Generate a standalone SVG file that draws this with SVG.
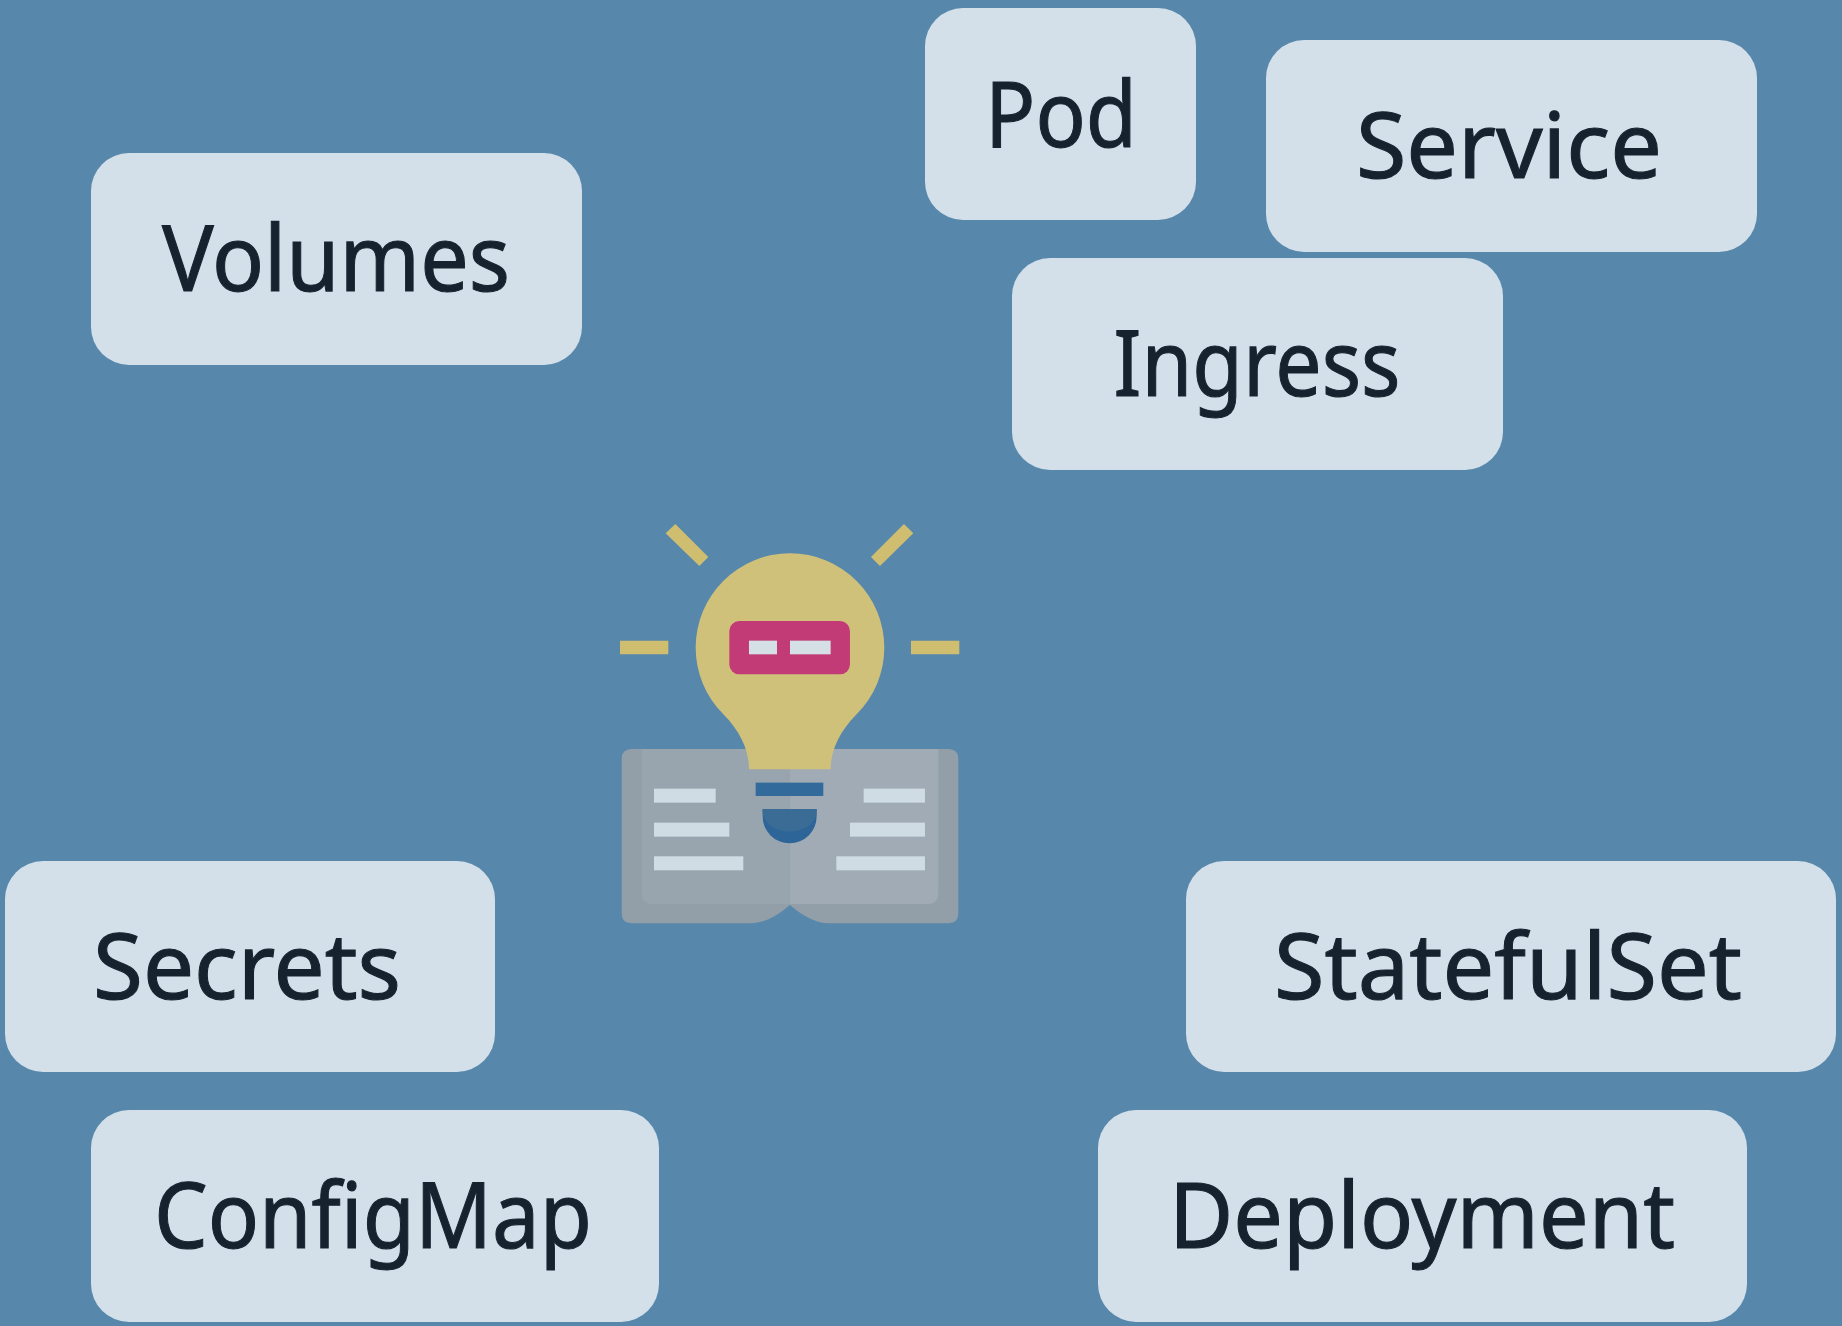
<svg xmlns="http://www.w3.org/2000/svg" width="1842" height="1326" viewBox="0 0 1842 1326">
<style>
.box{fill:#d3e0ea}
.lbl{font-family:"Noto Sans","Open Sans","Liberation Sans",sans-serif;font-size:92px;fill:#17242f;text-anchor:middle;stroke:#17242f;stroke-width:1.1}
.ray{fill:#cfbd6f}
.ln{fill:#cfdce4}
</style>
<defs><filter id="soft" x="-2%" y="-2%" width="104%" height="104%"><feGaussianBlur stdDeviation="0.7"/></filter></defs>
<rect id="background" width="1842" height="1326" fill="#5787ab"/>
<g id="connectors"/>
<g filter="url(#soft)">
<g id="node-pod"><rect class="box" x="925" y="8" width="271" height="212" rx="38"/><text class="lbl" x="1061" y="147" textLength="152" lengthAdjust="spacingAndGlyphs">Pod</text></g>
<g id="node-service"><rect class="box" x="1266" y="40" width="491" height="212" rx="38"/><text class="lbl" x="1509" y="178" textLength="306" lengthAdjust="spacingAndGlyphs">Service</text></g>
<g id="node-ingress"><rect class="box" x="1012" y="258" width="491" height="212" rx="38"/><text class="lbl" x="1257" y="396" textLength="287" lengthAdjust="spacingAndGlyphs">Ingress</text></g>
<g id="node-volumes"><rect class="box" x="91" y="153" width="491" height="212" rx="38"/><text class="lbl" x="336" y="291" textLength="348" lengthAdjust="spacingAndGlyphs">Volumes</text></g>
<g id="node-secrets"><rect class="box" x="5" y="861" width="490" height="211" rx="38"/><text class="lbl" x="247" y="999" textLength="308" lengthAdjust="spacingAndGlyphs">Secrets</text></g>
<g id="node-configmap"><rect class="box" x="91" y="1110" width="568" height="212" rx="38"/><text class="lbl" x="373" y="1248" textLength="438" lengthAdjust="spacingAndGlyphs">ConfigMap</text></g>
<g id="node-statefulset"><rect class="box" x="1186" y="861" width="650" height="211" rx="38"/><text class="lbl" x="1508" y="999" textLength="468" lengthAdjust="spacingAndGlyphs">StatefulSet</text></g>
<g id="node-deployment"><rect class="box" x="1098" y="1110" width="649" height="212" rx="38"/><text class="lbl" x="1422" y="1248" textLength="506" lengthAdjust="spacingAndGlyphs">Deployment</text></g>
<g id="node-icon" transform="translate(600 510) scale(.3333)">
<path d="M95,717H1045Q1075,717 1075,747V1210Q1075,1240 1045,1240H690C640,1240 600,1210 570,1185C540,1210 500,1240 450,1240H95Q65,1240 65,1210V747Q65,717 95,717Z" fill="#929ea8"/>
<path d="M125,717H570V1182H155Q125,1182 125,1150Z" fill="#98a4ae"/>
<path d="M570,717H1015V1150Q1015,1182 985,1182H570Z" fill="#a1abb5"/>
<path class="ray" d="M60,392H205V433H60Z M933,392H1078V433H933Z M226,42L325,141L298,168L197,70Z M912,42L940,70L840,168L813,141Z"/>
<path d="M447,778C447,720 420,663 370,613A283,283 0 1 1 770,613C720,663 692,720 692,778Z" fill="#cfc07a"/>
<rect x="388" y="333" width="362" height="160" rx="30" fill="#c23b77"/>
<rect x="447" y="392" width="84" height="41" fill="#d5dfe6"/>
<rect x="570" y="392" width="122" height="41" fill="#d5dfe6"/>
<rect x="467" y="818" width="203" height="40" fill="#336a9b"/>
<path d="M488,897H650V919A81,81 0 0 1 488,919Z" fill="#2f6599"/>
<path d="M488,897H650V905A81,60 0 0 1 488,905Z" fill="#3a6c96"/>
<rect class="ln" x="162" y="836" width="185" height="42"/>
<rect class="ln" x="162" y="938" width="226" height="42"/>
<rect class="ln" x="162" y="1039" width="268" height="42"/>
<rect class="ln" x="791" y="836" width="184" height="42"/>
<rect class="ln" x="750" y="938" width="225" height="42"/>
<rect class="ln" x="709" y="1039" width="266" height="42"/>
</g>
</g>
</svg>
